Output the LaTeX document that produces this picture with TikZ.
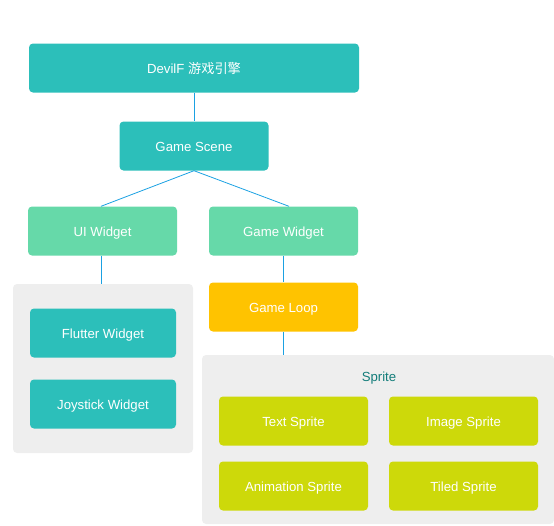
\documentclass[tikz,border=0pt]{standalone}
\usepackage{fontspec}
\setmainfont{Liberation Sans}
\newfontfamily\cjk{Noto Sans CJK SC}
\definecolor{teal1}{HTML}{2CBFBA}
\definecolor{mint}{HTML}{66D9A9}
\definecolor{amber}{HTML}{FFC300}
\definecolor{lime}{HTML}{CDD90A}
\definecolor{groupgray}{HTML}{EEEEEE}
\definecolor{linkblue}{HTML}{1BA1E2}
\definecolor{titleteal}{HTML}{137D7A}
\begin{document}
\begin{tikzpicture}[x=1pt,y=-1pt,
  box/.style={rounded corners=4pt,draw=none,minimum width=#1,minimum height=49pt,inner sep=0pt,text height=11pt,text depth=0pt,text=white,font=\fontsize{13.2}{15}\selectfont},
  box/.default=149pt,
  grp/.style={rounded corners=4pt,fill=groupgray,draw=none},
  link/.style={draw=linkblue,line width=0.8pt}]
\useasboundingbox (0,0) rectangle (554,525);
% groups
\fill[grp] (13,284) rectangle (193,453);
\fill[grp] (202,355) rectangle (554,524);
\coordinate (lgtop) at (101,284);
\coordinate (sgtop) at (283.5,355);
\node[font=\fontsize{13.2}{15}\selectfont,text=titleteal,text height=11pt,text depth=0pt,inner sep=0pt] (sprite) at (379,376) {Sprite};
% nodes
\node[box=330pt,fill=teal1] (devil) at (194,68) {DevilF {\cjk 游戏引擎}};
\node[box,fill=teal1] (scene) at (194,146) {Game Scene};
\node[box,fill=mint] (ui) at (102.5,231) {UI Widget};
\node[box,fill=mint] (gw) at (283.5,231) {Game Widget};
\node[box=146pt,fill=teal1] (flutter) at (103,333) {Flutter Widget};
\node[box=146pt,fill=teal1] (joy) at (103,404) {Joystick Widget};
\node[box,fill=amber] (loop) at (283.5,307) {Game Loop};
\node[box,fill=lime] (text) at (293.5,421) {Text Sprite};
\node[box,fill=lime] (image) at (463.5,421) {Image Sprite};
\node[box,fill=lime] (anim) at (293.5,486) {Animation Sprite};
\node[box,fill=lime] (tiled) at (463.5,486) {Tiled Sprite};
% connectors
\draw[link] (devil.south) -- (scene.north);
\draw[link] (scene.south) -- ([xshift=-1.5pt]ui.north);
\draw[link] (scene.south) -- ([xshift=5.5pt]gw.north);
\draw[link] (ui.south -| lgtop) -- (lgtop);
\draw[link] (gw.south) -- (loop.north);
\draw[link] (loop.south) -- (sgtop);
\end{tikzpicture}
\end{document}
